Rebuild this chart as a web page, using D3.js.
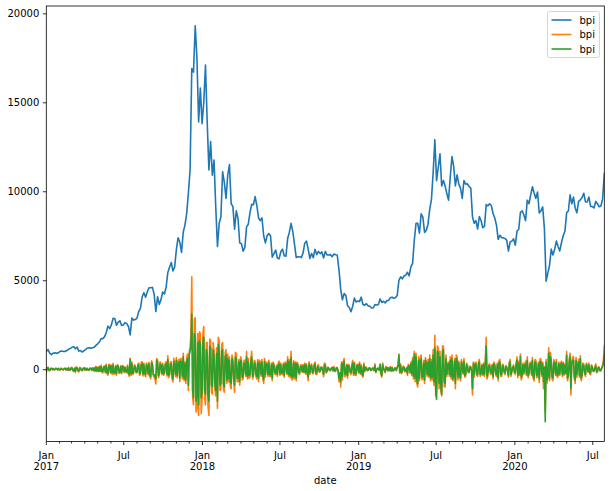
<!DOCTYPE html>
<html>
<head>
<meta charset="utf-8">
<script src="https://cdnjs.cloudflare.com/ajax/libs/d3/7.8.5/d3.min.js"></script>
<style>
  html, body { margin: 0; padding: 0; background: #fff; }
  svg text { font-family: "DejaVu Sans", sans-serif; }
</style>
</head>
<body>
<div id="chart"></div>
<script>
// ---- data ----
const startDate = "2017-01-01";
const priceStepDays = 4;   // blue series: one sample every 4 days
const diffStepDays = 2;    // change series: one sample every 2 days
const seriesNames = ["bpi", "bpi", "bpi"];
const seriesColors = ["#1f77b4", "#ff7f0e", "#2ca02c"];

// price index (blue)
const bpiPrice = [
  1000,1100,900,820,900,920,890,920,1000,1020,
  995,1000,1050,1120,1170,1230,1270,1150,1240,1020,
  1050,965,1040,1100,1190,1200,1180,1210,1240,1340,
  1420,1530,1720,1720,1820,2050,2420,2280,2480,2860,
  2850,2470,2650,2720,2460,2490,2620,2560,2400,1930,
  2870,2760,2790,2870,3250,3420,4060,4300,4050,4350,
  4580,4580,4600,4220,3240,4070,3640,3910,4340,4230,
  4610,5440,5730,6000,5520,5750,6740,7390,7140,6560,
  7700,8100,8740,9880,11200,16900,16700,19300,17500,13900,
  15800,13800,15000,17100,13900,11200,12800,10900,11750,9100,
  6900,8200,8550,11100,10500,9600,10900,11500,9300,9150,
  7870,8900,8470,7100,7050,6630,6850,8000,8150,8800,
  9270,9240,9700,9200,8500,8350,8500,7500,7100,7500,
  7620,7500,6300,6500,6700,6250,6200,6600,6750,6380,
  6350,7350,7700,8200,7740,7030,6280,6320,6320,6270,
  6530,7080,7200,6750,6220,6500,6270,6740,6440,6620,
  6500,6590,6250,6620,6420,6420,6440,6320,6470,6440,
  6400,5580,4500,3900,4250,4150,3570,3470,3230,3540,
  4000,3780,3830,3800,4050,3640,3600,3680,3560,3540,
  3450,3440,3630,3610,3630,3950,3750,3820,3720,3860,
  3870,4010,4050,3990,4020,4140,4990,5190,5080,5240,
  5290,5450,5250,5750,5950,7250,8200,8200,7650,8730,
  8550,7690,7810,8150,8980,9530,11020,12900,10600,11350,
  12100,10300,10600,10300,9870,9500,10800,11950,11400,10300,
  10920,10400,10180,9600,10600,10400,10420,10270,10180,8550,
  8200,8350,7880,8580,8360,7950,8030,9250,9180,9300,
  9200,8750,8500,8100,7300,7530,7400,7380,7350,7240,
  6640,7150,7200,7320,6970,7760,7850,8820,8900,8670,
  8350,9500,9300,9800,10250,9900,9600,9960,8780,8900,
  9120,7900,4950,5400,5830,6750,6420,6750,7200,6900,
  6650,7120,7500,7750,8800,8890,9800,9300,9670,9050,
  8800,9430,9520,9650,9890,9400,9400,9680,9150,9140,
  9060,9430,9300,9130,9170,9560,11000
];

// larger change series (orange)
const bpiChangeA = [
  -200,90,120,-70,-90,50,60,-30,50,-40,-30,60,40,-30,60,-50,-50,60,40,-30,
  -40,50,70,-40,50,-60,90,-70,-60,90,100,-80,-120,70,-180,130,90,-100,-150,100,
  80,-70,-90,60,90,-60,70,-50,50,-70,-60,70,60,-60,80,-90,90,-120,170,-130,
  120,-140,170,-130,230,-170,-200,160,190,-210,290,-260,-340,270,280,-230,240,-290,330,-260,
  -280,210,-330,250,230,-240,-220,200,-250,210,170,-190,130,-170,-210,240,-280,-400,620,-350,
  400,-300,-230,250,170,-210,-200,280,350,-340,-280,390,420,-380,340,-280,-420,340,240,-320,
  390,-420,-540,470,350,-390,-420,-560,-830,600,520,-480,-340,420,280,-310,330,-340,-270,350,
  420,-380,760,-480,-330,420,420,-560,-700,620,280,-420,660,-480,430,560,-700,620,560,-550,
  900,-650,400,-800,650,850,-1200,1000,1200,2000,5200,-1600,-2000,2800,2900,-2400,-2200,2000,-2600,2100,
  2000,-2500,-1700,2000,2400,-1600,-2000,1500,1500,-2100,-2600,1700,1600,-1300,-1400,1500,1000,-1100,-1500,1200,
  -2200,1800,1600,-1200,-1100,1400,1500,-1100,-1300,950,1100,-800,850,-700,700,-950,-1100,800,550,-700,
  -1300,950,900,-700,-700,550,-900,700,550,-600,-550,500,500,-400,1000,-550,600,-500,-450,550,
  1000,-550,-400,500,450,-400,-550,550,-700,500,450,-400,550,-500,-800,600,-450,400,350,-400,
  500,-400,-400,350,-650,400,300,-280,-300,220,-400,350,450,-350,350,-280,-300,350,-450,400,
  350,-280,700,-400,550,-480,1000,-600,-550,480,-550,420,-650,400,300,-250,-300,220,250,-170,
  260,-200,350,-280,300,-250,-650,420,-300,220,300,-250,-250,280,400,-300,-300,220,250,-170,
  -150,130,120,-100,-420,350,300,-220,-150,120,80,-90,-90,70,120,-100,150,-120,-120,100,
  90,-120,-700,-300,-1000,420,-600,420,600,-420,-350,280,-500,280,200,-200,-300,220,500,-350,
  400,-350,-350,280,280,-220,400,-280,250,-350,-450,350,-150,120,120,-90,-80,70,90,-70,
  -70,60,80,-90,300,-200,-50,60,60,-70,300,-280,-450,350,80,-90,-200,150,120,-100,
  90,-90,150,-120,120,-100,-100,80,80,-90,150,220,850,-220,300,-250,-150,170,150,-150,
  -120,100,-350,280,200,-220,400,-350,650,-550,1000,-700,900,-800,-1000,700,-650,600,800,-600,
  -550,500,-800,650,400,-400,550,-450,800,-650,550,-600,1100,-900,1900,-1500,-1300,1300,1200,-1100,
  1000,-1200,-1500,1300,1300,-1000,-1000,800,-400,350,400,-400,700,-550,800,-650,-550,600,-1100,800,
  700,-600,450,-400,-650,550,300,-280,600,-450,-400,350,250,-200,-200,170,150,-150,-1450,400,
  -450,350,400,-350,-400,400,550,-400,-300,280,-350,350,-400,500,1800,-550,-350,250,300,-280,
  -300,280,-550,400,300,-280,-400,350,-650,480,550,-400,-400,280,250,-200,-300,200,150,-150,
  -450,400,550,-400,-150,150,250,-200,-300,350,700,-480,450,-350,850,-600,-400,350,-300,280,
  450,-350,700,-480,-300,350,400,-350,650,-550,-650,550,500,-480,-400,400,-750,600,550,-400,
  400,-1100,150,-2400,550,-800,-400,1200,-650,950,550,-550,-650,550,400,-350,550,-450,-400,400,
  -350,350,450,-400,400,-350,300,-280,1000,-650,-400,550,900,-1450,400,700,700,-550,-800,650,
  -450,350,550,-450,750,-650,-400,350,300,-250,-400,350,250,-170,350,-280,-300,250,150,-130,
  -120,100,300,-200,-150,130,120,-100,-100,80,250,500,1300
];

// daily change series (green)
const bpiChangeB = [
  -100,60,80,-50,-60,30,40,-20,30,-30,-20,40,30,-20,40,-30,-30,40,20,-20,
  -30,30,40,-30,30,-40,60,-50,-40,60,70,-60,-80,50,-120,90,60,-70,-100,70,
  50,-50,-60,40,60,-40,50,-30,30,-50,-40,50,40,-40,50,-60,60,-80,110,-90,
  80,-100,120,-90,150,-120,-140,110,130,-150,200,-180,-250,190,200,-160,170,-200,240,-180,
  -200,150,-230,180,160,-170,-150,140,-180,150,120,-130,90,-120,-150,170,-200,-300,560,-250,
  300,-220,-160,180,120,-150,-150,200,250,-250,-200,280,300,-280,250,-200,-300,250,170,-230,
  300,-300,-400,350,260,-280,-300,-400,-550,500,400,-350,-250,300,200,-220,230,-250,-200,250,
  300,-280,550,-350,-250,300,300,-400,-550,450,200,-300,500,-350,300,400,-500,450,400,-400,
  700,-500,300,-600,450,600,-900,800,1000,1300,3100,-1200,-1600,2000,1800,-1800,-1500,1500,-2000,1600,
  1400,-1600,-1300,1500,1800,-1200,-1400,1100,900,-1500,-1800,1300,1200,-900,-1000,1100,700,-800,-1200,900,
  -1800,1400,1000,-900,-800,1000,1100,-800,-1000,700,800,-600,600,-500,500,-700,-800,600,400,-500,
  -900,700,600,-500,-500,400,-700,500,400,-450,-400,350,300,-300,700,-400,400,-350,-300,400,
  700,-400,-300,350,300,-300,-400,400,-500,350,300,-300,400,-350,-600,450,-300,300,250,-300,
  400,-300,-300,250,-500,300,200,-200,-200,150,-300,250,300,-250,250,-200,-200,250,-350,300,
  250,-200,500,-300,400,-350,650,-450,-400,350,-400,300,-500,300,200,-180,-200,160,150,-120,
  180,-150,250,-200,200,-180,-450,300,-200,150,200,-180,-150,200,300,-220,-200,150,150,-120,
  -100,90,80,-70,-300,250,200,-150,-100,80,50,-60,-60,50,80,-70,100,-80,-80,70,
  60,-80,-500,-200,-700,300,-400,300,450,-300,-250,200,-350,200,150,-150,-200,150,350,-250,
  300,-250,-250,200,200,-150,300,-200,150,-250,-350,250,-100,80,80,-60,-50,50,60,-50,
  -40,40,50,-60,200,-150,-30,40,40,-50,250,-200,-350,250,50,-60,-150,100,80,-70,
  60,-60,100,-80,80,-70,-60,50,50,-60,100,150,800,-150,200,-180,-100,120,100,-100,
  -80,70,-250,200,150,-150,300,-250,500,-400,850,-500,700,-600,-800,500,-500,450,600,-450,
  -400,350,-600,500,300,-300,400,-350,600,-500,400,-450,800,-700,1200,-1100,-1700,1000,900,-800,
  700,-900,-1400,1000,1100,-700,-800,600,-300,250,300,-300,500,-400,600,-500,-400,450,-800,600,
  500,-450,350,-300,-500,400,200,-200,450,-350,-300,250,200,-150,-150,120,100,-100,-1100,300,
  -300,250,300,-250,-300,300,400,-300,-200,200,-250,250,-300,350,1300,-400,-200,180,200,-200,
  -200,200,-400,300,200,-200,-300,250,-500,350,400,-300,-300,200,150,-150,-200,150,100,-100,
  -350,300,400,-300,-100,100,150,-150,-200,250,500,-350,300,-250,700,-450,-300,250,-200,200,
  300,-250,500,-350,-200,250,300,-250,500,-400,-500,400,400,-350,-300,300,-550,450,400,-300,
  300,-700,100,-2950,400,-600,-300,900,-500,700,400,-400,-500,400,300,-250,400,-350,-300,300,
  -250,250,350,-300,300,-250,200,-200,800,-500,-300,400,700,-1100,300,500,500,-400,-600,500,
  -300,250,400,-350,600,-500,-300,250,200,-180,-300,250,150,-120,250,-200,-200,180,100,-90,
  -80,70,200,-150,-100,90,80,-70,-60,50,150,300,800
];

// ---- layout ----
const W = 610, H = 491;
const plot = { left: 46.3, right: 604.3, top: 6, bottom: 441.5 };

const parse = d3.utcParse("%Y-%m-%d");
const t0 = parse(startDate);
const priceDates = bpiPrice.map((_, i) => d3.utcDay.offset(t0, i * priceStepDays));
const diffDates = bpiChangeA.map((_, i) => d3.utcDay.offset(t0, i * diffStepDays));
const allSeries = [
  { values: bpiPrice, dates: priceDates },
  { values: bpiChangeA, dates: diffDates },
  { values: bpiChangeB, dates: diffDates }
];

const svg = d3.select("#chart").append("svg")
  .attr("width", W).attr("height", H)
  .style("display", "block");

const x = d3.scaleUtc()
  .domain([d3.min(allSeries, s => s.dates[0]), d3.max(allSeries, s => s.dates[s.dates.length - 1])])
  .range([plot.left, plot.right]);

const lo = d3.min(allSeries, s => d3.min(s.values));
const hi = d3.max(allSeries, s => d3.max(s.values));
const pad = (hi - lo) * 0.05;
const y = d3.scaleLinear()
  .domain([lo - pad, hi + pad])
  .range([plot.bottom, plot.top]);

svg.append("defs").append("clipPath").attr("id", "clip")
  .append("rect")
  .attr("x", plot.left).attr("y", plot.top)
  .attr("width", plot.right - plot.left)
  .attr("height", plot.bottom - plot.top);

const g = svg.append("g").attr("clip-path", "url(#clip)");
allSeries.forEach((s, k) => {
  const line = d3.line()
    .x((d, i) => x(s.dates[i]))
    .y(d => y(d));
  g.append("path")
    .datum(s.values)
    .attr("fill", "none")
    .attr("stroke", seriesColors[k])
    .attr("stroke-width", 1.6)
    .attr("stroke-linejoin", "round")
    .attr("stroke-linecap", "square")
    .attr("d", line);
});

// y axis
const yAxis = d3.axisLeft(y).tickValues(y.ticks(5)).tickSize(3.5).tickPadding(3.5)
  .tickFormat(d3.format("d"));
const yg = svg.append("g").attr("transform", `translate(${plot.left},0)`).call(yAxis);
yg.select(".domain").remove();
yg.selectAll("line").attr("stroke", "#000").attr("stroke-width", 0.8);
yg.selectAll("text").attr("font-size", 10).attr("fill", "#000");

// x axis: monthly minor ticks, Jan/Jul major ticks
const months = d3.utcMonth.range(x.domain()[0], d3.utcDay.offset(x.domain()[1], 1));
const xg = svg.append("g");
months.forEach(m => {
  const mo = m.getUTCMonth();
  const major = (mo === 0 || mo === 6);
  const px = x(m);
  xg.append("line")
    .attr("x1", px).attr("x2", px)
    .attr("y1", plot.bottom).attr("y2", plot.bottom + (major ? 3.5 : 2))
    .attr("stroke", "#000").attr("stroke-width", 0.8);
  if (major) {
    const t = xg.append("text")
      .attr("x", px).attr("y", plot.bottom + 17)
      .attr("text-anchor", "middle")
      .attr("font-size", 10).attr("fill", "#000");
    t.append("tspan").attr("x", px).text(d3.utcFormat("%b")(m));
    if (mo === 0) {
      t.append("tspan").attr("x", px).attr("dy", 11.5).text(d3.utcFormat("%Y")(m));
    }
  }
});

svg.append("text")
  .attr("x", (plot.left + plot.right) / 2).attr("y", H - 7)
  .attr("text-anchor", "middle")
  .attr("font-size", 10).attr("fill", "#000")
  .text("date");

// spines
svg.append("rect")
  .attr("x", plot.left).attr("y", plot.top)
  .attr("width", plot.right - plot.left)
  .attr("height", plot.bottom - plot.top)
  .attr("fill", "none").attr("stroke", "#000").attr("stroke-width", 0.8);

// legend
const lg = svg.append("g");
lg.append("rect")
  .attr("x", 547.5).attr("y", 11.5).attr("width", 52).attr("height", 46)
  .attr("rx", 2).attr("ry", 2)
  .attr("fill", "#fff").attr("fill-opacity", 0.8)
  .attr("stroke", "#cccccc").attr("stroke-width", 0.8);
seriesNames.forEach((name, k) => {
  const yy = 20 + k * 14.5;
  lg.append("line")
    .attr("x1", 551.5).attr("x2", 571.5)
    .attr("y1", yy).attr("y2", yy)
    .attr("stroke", seriesColors[k]).attr("stroke-width", 1.6);
  lg.append("text")
    .attr("x", 579.5).attr("y", yy + 3.5)
    .attr("font-size", 10).attr("fill", "#000")
    .text(name);
});
</script>
</body>
</html>
